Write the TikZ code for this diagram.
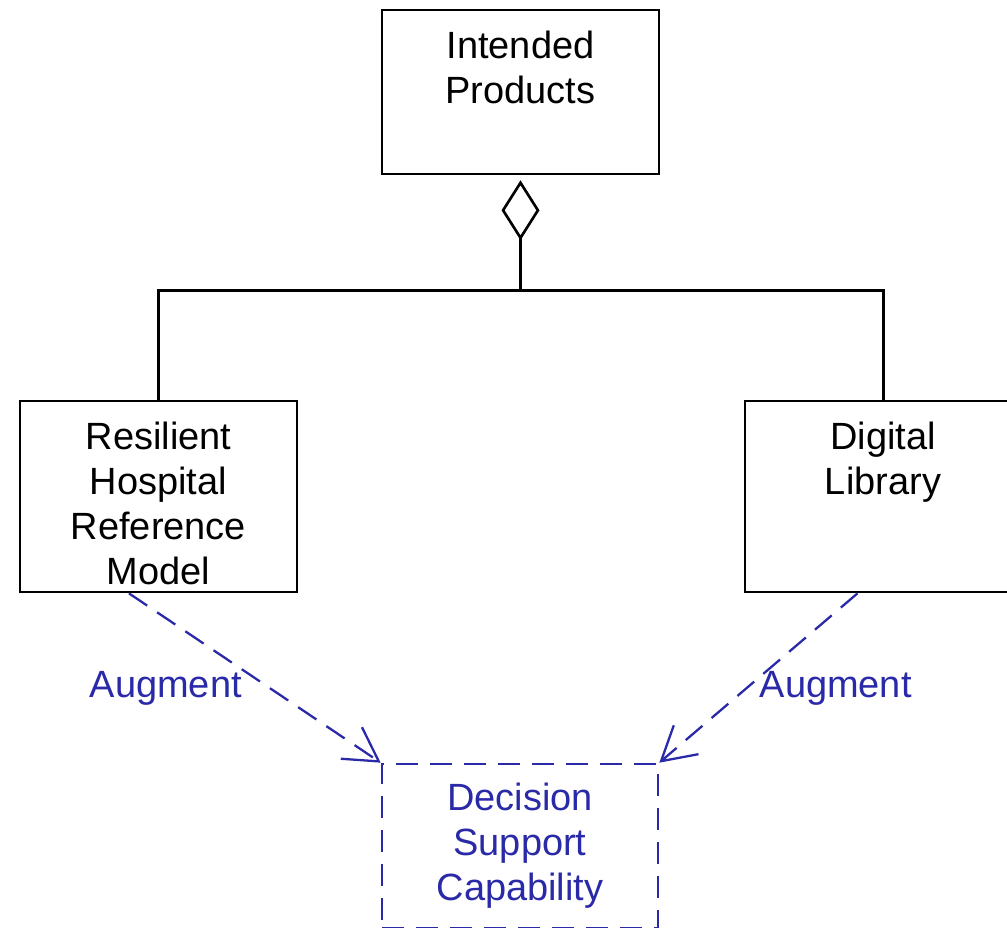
\documentclass[tikz,border=0pt]{standalone}
\usepackage{fontspec}
\setmainfont{Liberation Sans}
\usetikzlibrary{%
  arrows.meta,%
  positioning,% wg. " of "
  calc%
}
\definecolor{depblue}{RGB}{42,42,168}

\begin{document}
\begin{tikzpicture}
[draw=black, line width=0.75pt,
box/.style={rectangle, draw, fill=white, inner sep=0pt, minimum width=2.77cm, minimum height=1.91cm},
depbox/.style={rectangle, draw=depblue, dash pattern=on 0.22cm off 0.12cm, inner sep=0pt, minimum width=2.76cm, minimum height=1.64cm},
boxtext/.style={align=center, inner sep=0pt, font=\fontsize{10.8}{12.8}\selectfont},
deptext/.style={boxtext, text=depblue},
depend/.style={draw=depblue, line width=0.65pt, dash pattern=on 0.22cm off 0.12cm, -{Straight Barb[length=3.3mm,width=3.8mm]}},
aggr/.style={{Diamond[open,length=6mm,width=3.8mm]}-, shorten <=0.5mm}
]
\clip (0,0) rectangle (10.07,-9.28);

% whole and parts
\node[box, minimum height=1.64cm] (products) at (5.205,-0.92) {};
\node[boxtext] (productstext) at (5.205,-0.675) {Intended\\Products};

\node[box] (rhrm) at (1.585,-4.965) {};
\node[boxtext] (rhrmtext) at (1.585,-5.03) {Resilient\\Hospital\\Reference\\Model};

\node[box] (diglib) at (8.835,-4.965) {};
\node[boxtext] (diglibtext) at (8.83,-4.62) {Digital\\Library};

% aggregation
\coordinate (bar) at ($(products.south)+(0,-1.15)$);
\draw[aggr] (products.south) -- (bar);
\draw (rhrm.north) |- (bar) -| (diglib.north);

% dependent capability
\node[depbox] (dsc) at (5.20,-8.46) {};
\node[deptext] (dsctext) at (5.20,-8.46) {Decision\\Support\\Capability};

\draw[depend] (rhrm.-107) -- (dsc.north west)
  node[deptext, pos=0.56, anchor=east, xshift=-0.27cm] (augleft) {Augment};
\draw[depend] (diglib.-105) -- (dsc.north east)
  node[deptext, pos=0.56, anchor=west, xshift=0.12cm] (augright) {Augment};
\end{tikzpicture}
\end{document}
